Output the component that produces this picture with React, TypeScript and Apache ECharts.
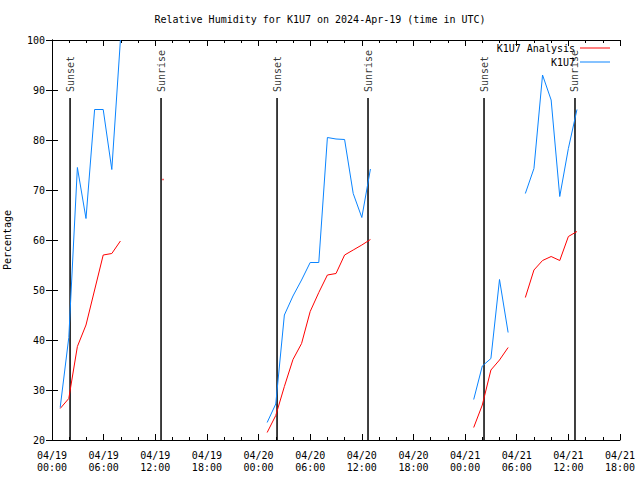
import React, { useEffect, useRef } from "react";
import * as echarts from "echarts";

// hours since 2024-04-19 00:00 UTC
const hours = [
  0.95, 1.95, 2.95, 3.95, 4.95, 5.95, 6.95, 7.95,
  10, 12.9, 18,
  25, 26, 27, 28, 29, 30, 31, 32, 33, 34, 35, 36, 37,
  43,
  49, 50, 51, 52, 53, 54, 55, 56, 57, 58, 59, 60, 61,
];
const observed: (number | null)[] = [
  26.5, 40.5, 74.5, 64.3, 86.1, 86.1, 74.1, 100,
  null, null, null,
  23.5, 27.2, 45, 48.8, 52, 55.5, 55.5, 80.5, 80.2, 80.1, 69.3, 64.5, 74.2,
  null,
  28.1, 34.8, 36.3, 52.1, 41.5, null, 69.3, 74.3, 93, 88, 68.7, 78.3, 86.1,
];
const analysis: (number | null)[] = [
  26.3, 28.3, 38.7, 43, 50, 57, 57.3, 59.8,
  null, 72.1, null,
  21.5, 24.9, 30.7, 36.1, 39.3, 45.7, 49.5, 53, 53.3, 57, 58, 59, 60.1,
  null,
  22.5, 27, 34, 36, 38.5, null, 48.5, 54, 55.9, 56.7, 55.9, 60.7, 61.7,
];
const sunTimes = [2.1, 12.67, 26.15, 36.72, 50.2, 60.77];
const sunLabels = ["Sunset", "Sunrise", "Sunset", "Sunrise", "Sunset", "Sunrise"];
const sunLineTop = 88.4;
const xTickLabels = [
  "04/19\n00:00", "04/19\n06:00", "04/19\n12:00", "04/19\n18:00",
  "04/20\n00:00", "04/20\n06:00", "04/20\n12:00", "04/20\n18:00",
  "04/21\n00:00", "04/21\n06:00", "04/21\n12:00", "04/21\n18:00",
];

const FONT = "DejaVu Sans Mono";

export default function App() {
  const ref = useRef<HTMLDivElement>(null);
  useEffect(() => {
    if (!ref.current) return;
    const chart = echarts.init(ref.current, null, { renderer: "svg" });
    const toData = (vals: (number | null)[]) =>
      hours.map((h, i) => [h, vals[i] == null ? "-" : vals[i]]);
    const isolated = (vals: (number | null)[]) =>
      hours
        .map((h, i) => ({ h, v: vals[i], i }))
        .filter(
          (p) =>
            p.v != null &&
            (p.i === 0 || vals[p.i - 1] == null) &&
            (p.i === vals.length - 1 || vals[p.i + 1] == null)
        )
        .map((p) => [p.h, p.v]);
    const sunLineData: any[] = [];
    sunTimes.forEach((t) => {
      sunLineData.push([t, 20], [t, sunLineTop], [t, "-"]);
    });
    const axisCommonX = {
      type: "value" as const,
      min: 0,
      max: 66,
      interval: 6,
      axisLine: { show: true, lineStyle: { color: "#000", width: 1 } },
      axisTick: { show: true, inside: true, length: 6, lineStyle: { color: "#000" } },
      minorTick: { show: true, splitNumber: 3, length: 3, lineStyle: { color: "#000" } },
      splitLine: { show: false },
      minorSplitLine: { show: false },
    };
    const axisCommonY = {
      type: "value" as const,
      min: 20,
      max: 100,
      interval: 10,
      axisLine: { show: true, lineStyle: { color: "#000", width: 1 } },
      axisTick: { show: true, inside: true, length: 6, lineStyle: { color: "#000" } },
      splitLine: { show: false },
    };
    chart.setOption({
      animation: false,
      backgroundColor: "#fff",
      textStyle: { fontFamily: FONT },
      title: {
        text: "Relative Humidity for K1U7 on 2024-Apr-19 (time in UTC)",
        left: "center",
        top: 9,
        textStyle: { fontFamily: FONT, fontSize: 10, fontWeight: "normal", color: "#000" },
      },
      legend: {
        data: ["K1U7 Analysis", "K1U7"],
        orient: "vertical",
        right: 30,
        top: 42,
        padding: 0,
        align: "right",
        icon: "rect",
        itemWidth: 30,
        itemHeight: 1,
        itemGap: 2,
        textStyle: { fontFamily: FONT, fontSize: 10, color: "#000", lineHeight: 12, padding: [0, 0, 0, 0] },
      },
      grid: { left: 52, right: 20, top: 40, bottom: 40, containLabel: false, outerBoundsMode: "none" },
      xAxis: [
        {
          ...axisCommonX,
          position: "bottom",
          axisLabel: {
            show: true,
            margin: 9,
            fontFamily: FONT,
            fontSize: 10,
            color: "#000",
            lineHeight: 12,
            formatter: (v: number) => xTickLabels[Math.round(v / 6)] ?? "",
          },
        },
        { ...axisCommonX, position: "top", axisLabel: { show: false } },
      ],
      yAxis: [
        {
          ...axisCommonY,
          position: "left",
          name: "Percentage",
          nameLocation: "middle",
          nameGap: 40,
          nameRotate: 90,
          nameTextStyle: { fontFamily: FONT, fontSize: 10, color: "#000" },
          axisLabel: { show: true, margin: 7, fontFamily: FONT, fontSize: 10, color: "#000" },
        },
        { ...axisCommonY, position: "right", axisLabel: { show: false } },
      ],
      series: [
        {
          name: "sun",
          type: "line",
          data: sunLineData,
          symbol: "none",
          lineStyle: { color: "#000", width: 1.5 },
          silent: true,
          z: 1,
        },
        {
          name: "sunLabels",
          type: "scatter",
          data: sunTimes.map((t, i) => ({ value: [t, sunLineTop], name: sunLabels[i] })),
          symbolSize: 0,
          label: {
            show: true,
            position: "top",
            distance: 6,
            rotate: 90,
            align: "left",
            verticalAlign: "middle",
            formatter: "{b}",
            fontFamily: FONT,
            fontSize: 10,
            color: "#000",
          },
          silent: true,
          z: 3,
        },
        {
          name: "K1U7 Analysis",
          type: "line",
          data: toData(analysis),
          symbol: "none",
          connectNulls: false,
          lineStyle: { color: "#ff0000", width: 1 },
          itemStyle: { color: "#ff0000" },
          z: 2,
        },
        {
          name: "K1U7 Analysis",
          type: "scatter",
          data: isolated(analysis),
          symbol: "rect",
          symbolSize: 1.5,
          itemStyle: { color: "#ff0000" },
          z: 2,
        },
        {
          name: "K1U7",
          type: "line",
          data: toData(observed),
          symbol: "none",
          connectNulls: false,
          lineStyle: { color: "#0a84ff", width: 1 },
          itemStyle: { color: "#0a84ff" },
          z: 2,
        },
      ],
    });
    return () => chart.dispose();
  }, []);
  return (
    <div
      ref={ref}
      style={{ position: "fixed", left: 0, top: 0, width: 640, height: 480 }}
    />
  );
}
